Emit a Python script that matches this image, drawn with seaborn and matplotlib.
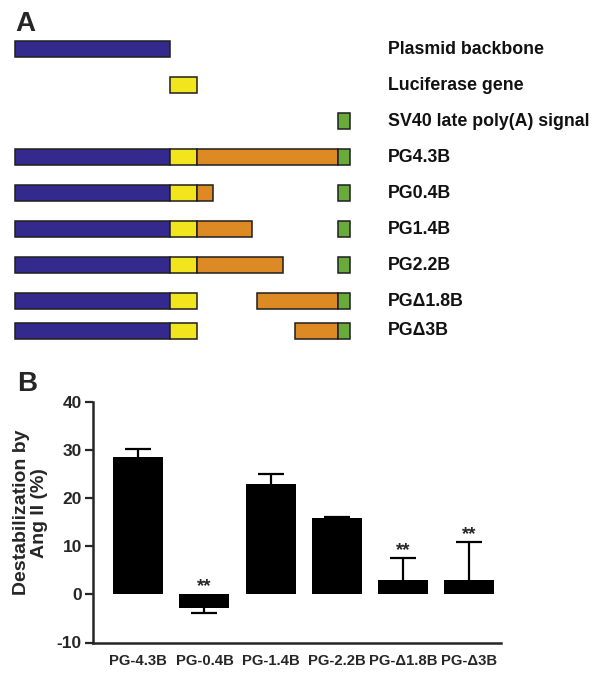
import numpy as np
import pandas as pd
import matplotlib
matplotlib.use("Agg")
import matplotlib.pyplot as plt
import matplotlib.transforms as mtransforms
import seaborn as sns

# ---------------- Panel A data ----------------
row_labels = ["Plasmid backbone", "Luciferase gene", "SV40 late poly(A) signal",
              "PG4.3B", "PG0.4B", "PG1.4B", "PG2.2B", "PG\u03941.8B", "PG\u03943B"]

backbone_rows = [0, 3, 4, 5, 6, 7, 8]
backbone_start = [0.0] * 7
backbone_end = [15.5] * 7

luciferase_rows = [1, 3, 4, 5, 6, 7, 8]
luciferase_start = [15.5] * 7
luciferase_end = [18.2] * 7

insert_rows = [3, 4, 5, 6, 7, 8]
insert_start = [18.2, 18.2, 18.2, 18.2, 24.2, 28.0]
insert_end = [32.3, 19.8, 23.7, 26.8, 32.3, 32.3]

polya_rows = [2, 3, 4, 5, 6, 7, 8]
polya_start = [32.3] * 7
polya_end = [33.5] * 7

# ---------------- Panel B data ----------------
constructs = ["PG-4.3B", "PG-0.4B", "PG-1.4B", "PG-2.2B", "PG-\u03941.8B", "PG-\u03943B"]
destab = [28.5, -2.8, 23.0, 15.9, 2.9, 2.9]
sem = [1.8, 1.1, 2.1, 0.2, 4.7, 7.9]
signif = ["", "**", "", "", "**", "**"]

# ---------------- style ----------------
sns.set_style("ticks")
plt.rcParams["font.family"] = ["Liberation Sans", "DejaVu Sans"]
plt.rcParams["font.weight"] = "bold"

BLUE = "#34298c"
YELLOW = "#f2e51e"
ORANGE = "#de8a24"
GREEN = "#68ab3a"
EDGE = "#1e1e1e"

W, H = 600, 676
fig = plt.figure(figsize=(W / 100, H / 100), dpi=100)

# ---------------- Panel A ----------------
row_pos = [0, 1, 2, 3, 4, 5, 6, 7, 7.83]
px_per_row = 36.0
axA = fig.add_axes([15 / W, 1 - 345 / H, (350 - 15) / W, 345 / H])
axA.set_xlim(0, 33.5)
axA.set_ylim((345 - 49) / px_per_row, -49 / px_per_row)
axA.axis("off")

segments = pd.concat([
    pd.DataFrame({"row": backbone_rows, "start": backbone_start, "end": backbone_end, "color": BLUE}),
    pd.DataFrame({"row": luciferase_rows, "start": luciferase_start, "end": luciferase_end, "color": YELLOW}),
    pd.DataFrame({"row": insert_rows, "start": insert_start, "end": insert_end, "color": ORANGE}),
    pd.DataFrame({"row": polya_rows, "start": polya_start, "end": polya_end, "color": GREEN}),
], ignore_index=True)
segments["y"] = [row_pos[r] for r in segments["row"]]

axA.barh(segments["y"], segments["end"] - segments["start"], left=segments["start"],
         height=0.43, color=segments["color"], edgecolor=EDGE, linewidth=1.1, clip_on=False)

trans = mtransforms.blended_transform_factory(fig.transFigure, axA.transData)
for i, lab in enumerate(row_labels):
    axA.text(388 / W, row_pos[i], lab, transform=trans, ha="left", va="center",
             fontsize=12.8, fontweight="bold", color="#111111")

fig.text(15 / W, 1 - 31 / H, "A", fontsize=20, fontweight="bold", ha="left", va="baseline")
fig.text(17 / W, 1 - 391 / H, "B", fontsize=20, fontweight="bold", ha="left", va="baseline")

# ---------------- Panel B ----------------
top_px, bot_px = 402.0, 642.5
left_px, right_px = 93.0, 501.0
axB = fig.add_axes([left_px / W, 1 - bot_px / H, (right_px - left_px) / W, (bot_px - top_px) / H])
dfB = pd.DataFrame({"construct": constructs, "value": destab})
sns.barplot(data=dfB, x="construct", y="value", color="black", width=0.755,
            saturation=1, edgecolor="black", linewidth=0, ax=axB)

xpos = np.arange(len(constructs))
vals = np.array(destab)
errs = np.array(sem)
lower = np.where(vals < 0, errs, 0)
upper = np.where(vals >= 0, errs, 0)
_, caps, _ = axB.errorbar(xpos, vals, yerr=[lower, upper], fmt="none", ecolor="black",
                          elinewidth=1.6, capsize=9.7, capthick=1.6, zorder=3)
# keep only the cap at the far end of each one-sided error bar
lo_cap, hi_cap = caps
lo_cap.set_data(xpos[lower > 0], (vals - lower)[lower > 0])
hi_cap.set_data(xpos[upper > 0], (vals + upper)[upper > 0])

for xi, v, e, s in zip(xpos, vals, errs, signif):
    if s:
        top = max(v, 0) + (e if v >= 0 else 0)
        axB.text(xi, top + 1.6, s, ha="center", va="center", fontsize=13.5,
                 fontweight="bold")

axB.set_xlim(-0.684, 5.479)
axB.set_ylim(-10, 40)
axB.set_yticks([-10, 0, 10, 20, 30, 40])
axB.set_yticklabels(["-10", "0", "10", "20", "30", "40"], fontsize=12.5, fontweight="bold")
axB.set_xticks(xpos)
axB.set_xticklabels(constructs, fontsize=10.7, fontweight="bold")
axB.tick_params(axis="y", length=6, width=1.6, direction="out", pad=2)
axB.tick_params(axis="x", length=0, pad=8)
for sp in ["top", "right"]:
    axB.spines[sp].set_visible(False)
for sp in ["left", "bottom"]:
    axB.spines[sp].set_linewidth(1.8)
axB.set_xlabel("")
axB.set_ylabel("Destabilization by\nAng II (%)", fontsize=14, fontweight="bold",
               linespacing=1.1)
axB.yaxis.set_label_coords(-0.11, 0.54)
axB.yaxis.label.set_va("bottom")

fig.savefig("out.png", dpi=100, facecolor="white")
